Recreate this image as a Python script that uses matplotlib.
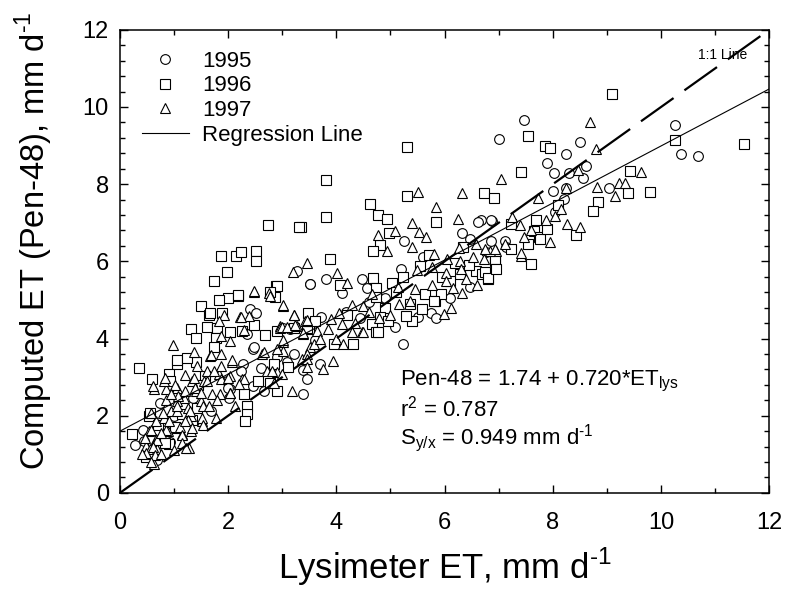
import numpy as np
import matplotlib
matplotlib.use("Agg")
import matplotlib.pyplot as plt
from matplotlib.lines import Line2D

plt.rcParams['font.family'] = ['Liberation Sans', 'DejaVu Sans']
plt.rcParams['mathtext.fontset'] = 'custom'
plt.rcParams['mathtext.rm'] = 'Liberation Sans'

# ---- data (Lysimeter ET, Pen-48 ET) ----
pts_1995 = [
    (7.46, 9.66), (7.00, 9.18), (8.50, 9.10), (8.25, 8.77), (7.90, 8.54), (8.03, 8.28),
    (8.29, 8.30), (8.62, 8.47), (8.55, 8.16), (8.01, 7.83), (8.25, 7.91), (8.21, 7.62),
    (9.04, 7.91), (8.04, 7.28), (6.88, 7.05), (6.67, 7.08), (7.12, 6.53), (6.86, 6.53),
    (7.13, 6.36), (10.25, 9.53), (10.37, 8.78), (10.69, 8.74), (6.61, 7.03), (6.86, 7.07),
    (5.25, 6.53), (6.32, 6.73), (6.47, 6.58), (3.81, 5.54), (3.51, 5.41), (4.47, 5.54),
    (5.20, 5.80), (4.56, 5.32), (4.74, 5.19), (4.10, 5.17), (6.47, 5.34), (4.90, 5.05),
    (4.18, 4.70), (3.71, 4.56), (4.44, 4.54), (5.09, 4.30), (5.75, 4.65), (5.85, 4.54),
    (3.27, 5.74), (2.41, 4.76), (2.52, 4.67), (2.34, 4.13), (3.02, 4.27), (3.15, 4.24),
    (2.46, 3.72), (3.21, 3.61), (2.90, 3.51), (2.28, 3.35), (3.09, 3.38), (3.39, 3.18),
    (3.46, 2.95), (3.38, 2.57), (2.66, 2.64), (2.46, 2.77), (2.04, 2.69), (1.98, 2.90),
    (2.01, 2.47), (3.52, 5.42), (2.48, 3.77), (2.23, 3.16), (2.60, 3.23), (3.70, 3.35),
    (5.24, 3.87), (0.28, 1.25), (0.43, 1.64), (0.68, 0.86), (0.74, 2.33), (1.69, 2.11),
    (2.00, 2.72), (0.92, 1.33), (6.77, 6.23), (4.60, 4.95), (5.50, 4.55), (3.60, 3.95),
    (0.45, 1.35), (1.00, 2.00), (1.35, 2.45), (6.10, 5.05), (5.60, 6.10),
]

pts_1996 = [
    (9.09, 10.34), (7.55, 9.25), (7.85, 8.98), (7.95, 8.93), (7.42, 8.32), (6.72, 7.78),
    (6.92, 7.65), (9.38, 7.77), (9.42, 8.35), (9.79, 7.80), (8.83, 7.53), (8.75, 7.31),
    (7.69, 7.07), (7.66, 6.79), (7.75, 6.62), (7.55, 6.45), (8.42, 6.67), (7.23, 6.96),
    (7.23, 6.32), (10.25, 9.14), (11.53, 9.04), (3.81, 8.11), (3.81, 7.15), (3.35, 6.90),
    (5.30, 7.70), (4.63, 7.48), (4.77, 7.21), (4.93, 7.11), (5.84, 7.01), (4.98, 6.73),
    (4.80, 6.42), (4.67, 6.27), (6.34, 6.38), (5.72, 6.17), (6.93, 6.01), (3.89, 6.07),
    (4.68, 5.57), (5.23, 5.60), (5.55, 5.88), (6.29, 5.67), (6.58, 5.75), (6.70, 5.67),
    (6.80, 5.54), (5.02, 5.43), (4.74, 5.30), (4.73, 5.08), (4.07, 5.39), (5.63, 5.15),
    (5.82, 4.98), (5.94, 5.15), (4.90, 4.80), (4.80, 4.56), (3.48, 4.67), (3.50, 4.24),
    (4.65, 4.37), (4.73, 4.16), (5.36, 4.89), (5.39, 4.46), (5.28, 4.59), (5.59, 4.76),
    (5.80, 4.96), (2.74, 6.94), (3.31, 6.90), (1.86, 6.13), (2.15, 6.13), (2.24, 6.23),
    (2.52, 6.26), (2.52, 6.00), (1.98, 5.73), (1.74, 5.50), (2.89, 5.35), (2.18, 5.11),
    (1.99, 5.04), (1.83, 4.99), (2.87, 5.08), (1.49, 4.85), (1.64, 4.61), (1.89, 4.67),
    (1.31, 4.24), (1.60, 4.31), (2.47, 4.35), (1.40, 4.01), (1.80, 4.28), (2.04, 4.18),
    (2.26, 4.20), (2.69, 4.10), (2.90, 4.20), (3.21, 4.28), (3.45, 4.28), (0.36, 3.23),
    (0.60, 2.95), (1.06, 3.34), (0.91, 3.08), (1.40, 3.38), (1.58, 3.03), (2.84, 3.34),
    (3.11, 3.25), (2.78, 2.86), (2.90, 2.63), (2.29, 2.56), (2.34, 2.26), (2.35, 2.04),
    (2.32, 1.87), (1.03, 1.69), (0.23, 1.52), (0.91, 1.26), (0.54, 1.99), (2.90, 5.37),
    (2.78, 5.20), (2.19, 5.12), (1.66, 4.65), (1.77, 4.01), (1.06, 3.45), (1.24, 3.49),
    (1.74, 3.79), (0.92, 2.90), (2.55, 2.90), (4.31, 3.86), (4.77, 4.16), (5.30, 8.97),
    (0.55, 2.07), (1.02, 1.72), (1.33, 1.90), (0.83, 1.29), (0.48, 0.94), (1.42, 2.19),
    (6.93, 6.05), (6.75, 5.72), (6.81, 5.58), (7.60, 5.92), (7.76, 6.57), (6.10, 5.50),
    (6.20, 5.95), (6.45, 5.90), (5.95, 5.60), (4.20, 4.60), (4.95, 4.45), (5.10, 5.20),
    (3.60, 4.45), (3.95, 3.85), (0.70, 1.75), (1.15, 2.05), (1.45, 2.80), (6.95, 5.80),
    (7.90, 6.85), (8.10, 7.45),
]

pts_1997 = [
    (8.68, 9.62), (8.79, 8.91), (8.47, 8.37), (7.04, 8.13), (8.25, 7.90), (7.72, 7.64),
    (8.81, 7.93), (9.22, 8.02), (9.34, 8.02), (9.15, 7.70), (9.63, 8.32), (8.04, 7.18),
    (7.87, 7.07), (7.47, 6.62), (7.40, 6.93), (8.27, 6.96), (8.51, 6.88), (7.24, 7.14),
    (7.41, 6.14), (6.95, 6.27), (5.51, 7.80), (6.32, 7.76), (5.84, 7.41), (6.24, 7.09),
    (5.39, 6.99), (5.53, 6.77), (5.65, 6.64), (5.09, 6.79), (4.77, 6.69), (4.93, 6.26),
    (5.39, 6.38), (6.26, 6.34), (6.58, 6.45), (6.83, 6.27), (5.80, 6.20), (6.52, 6.10),
    (6.72, 6.06), (6.28, 6.01), (3.45, 5.95), (4.02, 5.71), (4.19, 5.43), (5.49, 5.77),
    (5.77, 5.86), (6.03, 5.71), (6.30, 5.80), (5.14, 5.34), (4.65, 5.15), (5.45, 5.28),
    (5.77, 5.38), (6.03, 5.49), (6.32, 5.17), (4.79, 4.54), (4.28, 4.87), (4.50, 4.85),
    (3.90, 4.50), (4.10, 4.37), (3.42, 4.46), (4.28, 4.16), (4.47, 4.18), (5.36, 4.98),
    (5.98, 4.63), (6.12, 4.80), (3.19, 5.73), (2.48, 5.21), (2.76, 5.19), (2.78, 5.11),
    (3.02, 4.85), (3.22, 4.61), (1.92, 4.61), (2.21, 4.57), (2.38, 4.59), (3.45, 4.46),
    (2.96, 4.33), (3.27, 4.33), (1.83, 4.46), (1.86, 4.07), (2.04, 3.94), (2.29, 4.22),
    (2.96, 4.28), (3.38, 4.11), (3.64, 4.20), (0.99, 3.84), (1.37, 3.64), (1.66, 3.55),
    (1.86, 3.60), (3.01, 3.92), (3.51, 3.77), (0.63, 2.69), (0.85, 2.69), (0.82, 2.90),
    (1.06, 2.73), (1.18, 2.47), (1.34, 2.90), (1.43, 3.29), (1.61, 3.16), (1.83, 3.08),
    (1.86, 3.29), (2.07, 3.38), (2.04, 3.03), (1.86, 2.95), (2.04, 2.60), (2.26, 2.95),
    (1.40, 2.64), (1.49, 2.38), (1.25, 2.21), (1.06, 2.38), (0.94, 2.13), (0.82, 1.95),
    (0.66, 1.87), (0.54, 1.61), (0.66, 1.39), (0.48, 1.22), (0.60, 1.00), (0.63, 0.74),
    (0.88, 1.61), (1.15, 1.52), (1.31, 1.61), (1.52, 1.87), (1.77, 1.95), (1.28, 1.17),
    (0.63, 1.26), (0.56, 1.13), (0.69, 1.13), (1.06, 2.13), (1.31, 2.00), (1.71, 2.56),
    (2.72, 3.16), (2.90, 3.12), (2.63, 3.60), (3.02, 3.68), (3.36, 3.47), (3.18, 2.64),
    (2.84, 2.86), (3.58, 3.85), (3.45, 3.60), (3.02, 4.88), (2.23, 4.55), (3.22, 4.62),
    (3.45, 4.47), (2.99, 4.31), (3.09, 4.31), (3.24, 4.35), (3.39, 4.15), (2.66, 3.66),
    (2.90, 3.74), (3.02, 3.95), (3.45, 3.48), (1.68, 3.58), (2.08, 3.45), (1.74, 3.16),
    (1.99, 2.99), (2.29, 2.95), (2.81, 3.16), (2.99, 3.08), (3.45, 3.25), (0.83, 2.99),
    (1.37, 2.99), (1.55, 2.90), (3.76, 3.20), (3.94, 3.42), (4.13, 3.86), (4.50, 4.16),
    (0.62, 2.76), (1.02, 2.80), (1.20, 2.63), (1.39, 2.72), (1.60, 2.89), (1.85, 2.55),
    (2.03, 2.60), (2.13, 2.25), (2.20, 2.83), (0.58, 2.07), (0.80, 2.07), (1.05, 2.24),
    (1.29, 2.11), (1.26, 1.90), (1.51, 1.94), (1.54, 2.24), (1.79, 2.42), (1.11, 1.72),
    (1.33, 1.68), (1.54, 1.77), (0.58, 1.64), (0.86, 1.64), (1.14, 1.51), (0.46, 1.42),
    (0.68, 1.38), (0.62, 1.20), (1.14, 1.29), (0.49, 1.03), (0.65, 0.99), (1.23, 1.16),
    (0.58, 0.81), (1.08, 2.50), (0.86, 2.42), (7.41, 6.21), (6.75, 6.31), (6.93, 6.31),
    (7.12, 6.44), (2.47, 5.23), (6.15, 5.30), (6.40, 5.55), (6.60, 5.40), (6.05, 6.05),
    (4.00, 4.00), (4.35, 4.40), (4.60, 4.70), (5.00, 4.60), (5.15, 4.90), (3.70, 4.00),
    (3.85, 4.25), (4.05, 4.65), (0.75, 1.55), (0.90, 1.85), (1.00, 1.10), (0.40, 1.00),
    (0.75, 1.00), (1.20, 1.85), (0.95, 2.55), (1.20, 3.05), (1.50, 2.60), (1.65, 2.25),
    (7.60, 6.80), (7.95, 6.50), (8.15, 7.35),
]

# regression line as drawn on the figure
reg_intercept = 1.60
reg_slope = 0.739
line_x = [0, 12]

fig = plt.figure(figsize=(7.89, 5.96), dpi=100)
ax = fig.add_axes([0.152, 0.173, 0.823, 0.777])

mk = dict(linestyle='none', mfc='white', mec='black', mew=0.8)
series = [(pts_1995, 'o', 7.0, '1995'), (pts_1996, 's', 6.8, '1996'), (pts_1997, '^', 7.8, '1997')]
handles = []
for pts, m, ms, lab in series:
    xs = [p[0] for p in pts]
    ys = [p[1] for p in pts]
    ax.plot(xs, ys, marker=m, ms=ms, zorder=2, **mk)
    handles.append(Line2D([], [], marker=m, ms=ms, **mk, label=lab))

# 1:1 line and regression line
ax.plot(line_x, line_x, color='black', lw=1.6, dashes=(18, 6), zorder=3)
ax.plot(line_x, [reg_intercept + reg_slope * v for v in line_x], color='black', lw=0.8, zorder=3)
handles.append(Line2D([], [], color='black', lw=0.8, label='Regression Line'))

ax.set_xlim(0, 12)
ax.set_ylim(0, 12)
ax.set_xticks(np.arange(0, 13, 2))
ax.set_yticks(np.arange(0, 13, 2))
ax.set_xticks(np.arange(1, 12, 2), minor=True)
ax.set_yticks(np.arange(0, 12.01, 0.4), minor=True)
ax.tick_params(which='both', direction='in', top=True, right=True, width=1, labelsize=17)
ax.tick_params(which='major', length=6)
ax.tick_params(axis='x', which='major', pad=14)
ax.tick_params(axis='y', which='major', pad=8)
ax.tick_params(which='minor', length=3.5)
for s in ax.spines.values():
    s.set_linewidth(1.1)

ax.set_xlabel('Lysimeter ET, mm d$^{\\text{-1}}$', fontsize=25, labelpad=8)
ax.set_ylabel('Computed ET (Pen-48), mm d$^{\\text{-1}}$', fontsize=23.5)
ax.yaxis.set_label_coords(-0.10, 0.545)

leg = ax.legend(handles=handles, loc='upper left', bbox_to_anchor=(0.034, 0.955),
                frameon=False, fontsize=16, handlelength=2.1, handletextpad=0.6,
                labelspacing=0.17, borderpad=0, borderaxespad=0)

ax.text(11.13, 11.35, '1:1 Line', fontsize=10, ha='center', va='center')
ax.text(5.18, 2.90, 'Pen-48 = 1.74 + 0.720*ET$_{\\mathregular{lys}}$', fontsize=16, va='center')
ax.text(5.18, 2.18, 'r$^{\\mathregular{2}}$ = 0.787', fontsize=16, va='center')
ax.text(5.18, 1.42, 'S$_{\\mathregular{y/x}}$ = 0.949 mm d$^{\\text{-1}}$', fontsize=16, va='center')

fig.savefig('out.png', dpi=100)
